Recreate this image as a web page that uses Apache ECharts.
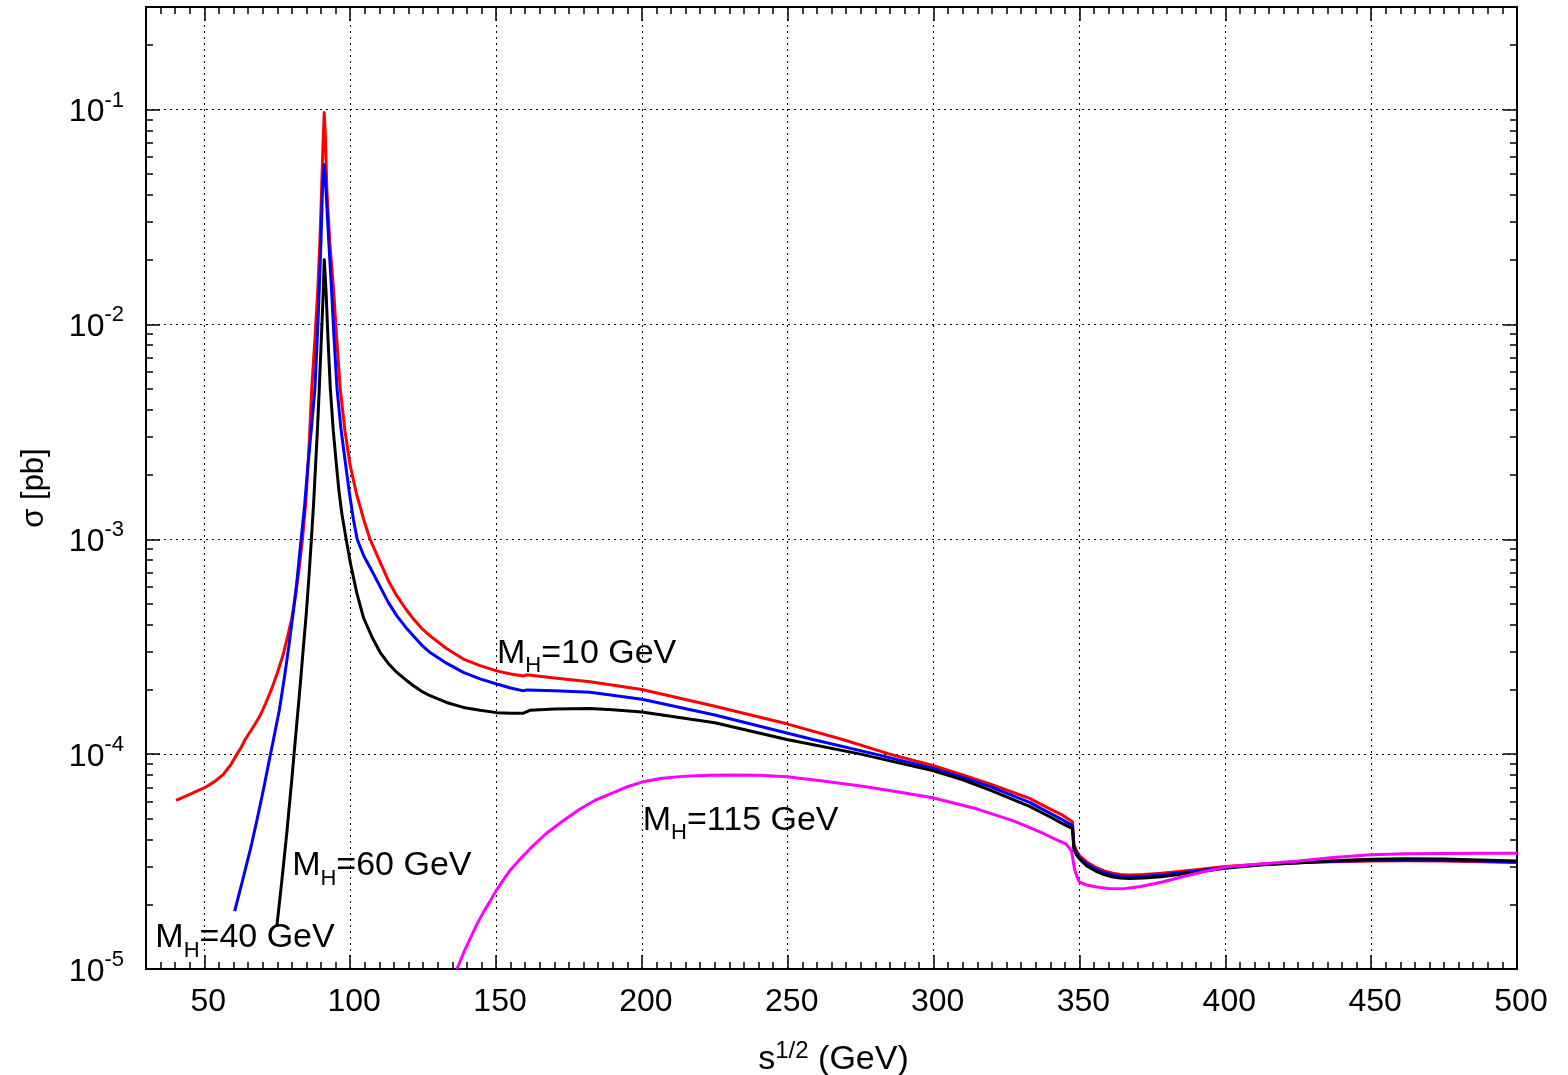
<!DOCTYPE html>
<html>
<head>
<meta charset="utf-8">
<title>sigma vs sqrt(s)</title>
<script src="https://cdn.jsdelivr.net/npm/echarts@6/dist/echarts.min.js"></script>
<style>
    html, body { margin: 0; padding: 0; background: #fff; }
    #main { width: 1568px; height: 1075px; }
</style>
</head>
<body>
<div id="main"></div>
<script type="text/javascript">
    // values: [sqrt(s) GeV, sigma pb]
    var mh10 = [[40.3,6.1e-5],[45,6.5e-5],[50.1,6.98e-5],[53.5,7.45e-5],[56.6,8.07e-5],[59,8.9e-5],[61.2,1.0e-4],[62.7,1.08e-4],[64.0,1.17e-4],[66.5,1.32e-4],[69,1.5e-4],[71,1.72e-4],[73,2.0e-4],[75,2.38e-4],[77,2.9e-4],[78.5,3.5e-4],[80,4.3e-4],[81.3,5.5e-4],[82.5,7.3e-4],[83.7,1.02e-3],[84.8,1.5e-3],[85.9,2.7e-3],[86.8,5.0e-3],[87.9,8.5e-3],[88.9,1.455e-2],[89.6,2.4e-2],[90.2,4.25e-2],[90.7,7.0e-2],[91.1,0.0968],[91.5,7.5e-2],[92.0,4.25e-2],[93.0,2.4e-2],[94.3,1.455e-2],[95.4,8.5e-3],[96.6,5.0e-3],[98.2,3.2e-3],[100.0,2.2e-3],[102.2,1.62e-3],[104.6,1.24e-3],[106.8,1.0e-3],[110.3,7.8e-4],[113,6.45e-4],[116,5.45e-4],[119,4.75e-4],[121.7,4.25e-4],[124.5,3.85e-4],[127.4,3.55e-4],[133,3.1e-4],[138.8,2.77e-4],[144.5,2.58e-4],[150.2,2.44e-4],[155,2.36e-4],[159.4,2.31e-4],[160.5,2.34e-4],[170,2.26e-4],[182.2,2.17e-4],[200,2.0e-4],[225,1.67e-4],[250,1.38e-4],[268.8,1.17e-4],[285,1.0e-4],[300,8.83e-5],[310,8.0e-5],[320,7.2e-5],[332.9,6.22e-5],[340,5.55e-5],[344.2,5.2e-5],[347.6,4.85e-5],[348.1,3.8e-5],[349,3.55e-5],[350,3.37e-5],[352.5,3.15e-5],[355.7,2.97e-5],[358.5,2.86e-5],[361.4,2.79e-5],[364,2.75e-5],[367,2.74e-5],[372,2.75e-5],[378,2.79e-5],[390,2.9e-5],[400,3.0e-5],[412,3.07e-5],[425,3.12e-5],[437,3.16e-5],[450,3.18e-5],[462,3.19e-5],[475,3.18e-5],[487,3.16e-5],[500,3.13e-5]];
    var mh40 = [[60.4,1.86e-5],[63,2.55e-5],[65.8,3.61e-5],[68,4.9e-5],[70.3,6.88e-5],[72,9.0e-5],[73.7,1.17e-4],[75.7,1.6e-4],[77.5,2.3e-4],[79,3.2e-4],[80.5,4.6e-4],[81.8,6.5e-4],[83,9.5e-4],[84.3,1.4e-3],[85.5,2.2e-3],[86.8,3.4e-3],[87.9,5.0e-3],[88.7,8.5e-3],[89.4,1.455e-2],[90,2.5e-2],[90.5,4.25e-2],[91.1,0.0555],[91.7,4.25e-2],[92.6,2.5e-2],[93.6,1.455e-2],[94.5,8.5e-3],[95.5,5.0e-3],[96.8,3.3e-3],[98.3,2.3e-3],[99.7,1.65e-3],[101.1,1.24e-3],[102.4,1.0e-3],[104.6,8.4e-4],[107.5,7.1e-4],[110.3,6.0e-4],[113,5.1e-4],[116,4.4e-4],[119,3.9e-4],[121.7,3.55e-4],[124.5,3.22e-4],[127.4,2.97e-4],[133,2.65e-4],[138.8,2.4e-4],[144.5,2.24e-4],[150.2,2.12e-4],[155,2.03e-4],[159.4,1.97e-4],[160.6,1.99e-4],[170,1.97e-4],[182.2,1.94e-4],[200,1.8e-4],[225,1.52e-4],[258.6,1.17e-4],[280,1.0e-4],[300,8.58e-5],[310,7.8e-5],[320,7.0e-5],[332.9,5.96e-5],[340,5.3e-5],[344.2,4.95e-5],[347.6,4.65e-5],[348.1,3.7e-5],[349,3.47e-5],[350,3.3e-5],[352.5,3.08e-5],[355.7,2.92e-5],[358.5,2.81e-5],[361.4,2.74e-5],[364,2.7e-5],[367,2.69e-5],[372,2.7e-5],[378,2.74e-5],[390,2.86e-5],[400,2.97e-5],[412,3.06e-5],[425,3.12e-5],[437,3.17e-5],[450,3.2e-5],[462,3.21e-5],[475,3.2e-5],[487,3.18e-5],[500,3.14e-5]];
    var mh60 = [[74.9,1.6e-5],[76.6,2.6e-5],[78.3,4.34e-5],[80.0,7.65e-5],[81.2,1.17e-4],[82.1,1.6e-4],[83,2.2e-4],[84,3.2e-4],[85,4.6e-4],[85.9,6.8e-4],[86.7,1.0e-3],[87.5,1.5e-3],[88.2,2.3e-3],[88.8,3.3e-3],[89.4,5.0e-3],[90.1,8.5e-3],[90.8,1.455e-2],[91.1,0.02],[91.7,1.455e-2],[92.4,8.5e-3],[93.2,5.0e-3],[94.2,3.2e-3],[95.3,2.2e-3],[96.2,1.65e-3],[97.2,1.3e-3],[98.9,9.5e-4],[100.2,7.6e-4],[102.3,5.6e-4],[104.6,4.3e-4],[107.5,3.5e-4],[110.3,2.97e-4],[113,2.65e-4],[116,2.4e-4],[119,2.22e-4],[121.7,2.08e-4],[124.5,1.96e-4],[127.4,1.87e-4],[133,1.74e-4],[138.8,1.65e-4],[144.5,1.6e-4],[150.2,1.56e-4],[155,1.55e-4],[159.4,1.55e-4],[161.6,1.6e-4],[170,1.62e-4],[182.2,1.63e-4],[190,1.61e-4],[200,1.57e-4],[225,1.4e-4],[249.7,1.17e-4],[275,1.0e-4],[300,8.36e-5],[310,7.6e-5],[320,6.75e-5],[332.9,5.71e-5],[340,5.1e-5],[344.2,4.75e-5],[347.6,4.5e-5],[348.1,3.6e-5],[349,3.4e-5],[350,3.25e-5],[352.5,3.02e-5],[355.7,2.85e-5],[358.5,2.75e-5],[361.4,2.68e-5],[364,2.65e-5],[367,2.64e-5],[372,2.65e-5],[378,2.69e-5],[390,2.82e-5],[400,2.94e-5],[412,3.05e-5],[425,3.12e-5],[437,3.19e-5],[450,3.24e-5],[462,3.26e-5],[475,3.25e-5],[487,3.22e-5],[500,3.18e-5]];
    var mh115 = [[136.6,1.0e-5],[139,1.2e-5],[141.1,1.38e-5],[143.3,1.6e-5],[145.7,1.84e-5],[148,2.07e-5],[150,2.31e-5],[152.5,2.6e-5],[155,2.9e-5],[158,3.22e-5],[161.6,3.62e-5],[167,4.25e-5],[173,4.9e-5],[178.8,5.55e-5],[184,6.1e-5],[190,6.6e-5],[195,7.05e-5],[200.3,7.43e-5],[207,7.72e-5],[215,7.9e-5],[223,7.98e-5],[231.2,8.0e-5],[240,7.97e-5],[249.7,7.85e-5],[262,7.5e-5],[275,7.1e-5],[287,6.7e-5],[299.7,6.27e-5],[315,5.55e-5],[327.1,4.9e-5],[333,4.55e-5],[338,4.25e-5],[342,4.0e-5],[345.4,3.82e-5],[347.3,3.54e-5],[348.3,2.92e-5],[349.2,2.68e-5],[350,2.54e-5],[352.5,2.46e-5],[355.8,2.41e-5],[360,2.37e-5],[364.7,2.36e-5],[371,2.42e-5],[378.4,2.54e-5],[385,2.68e-5],[392,2.83e-5],[400,2.98e-5],[412,3.08e-5],[425,3.18e-5],[437,3.3e-5],[450,3.4e-5],[462,3.44e-5],[475,3.45e-5],[487,3.46e-5],[500,3.46e-5]];

    var xMajor = [50, 100, 150, 200, 250, 300, 350, 400, 450, 500];

    // curve labels (M_H value) and where they sit, in data units
    var labelText = ['10', '115', '60', '40'];
    var labelAnchor = [[150.3, 2.95e-4], [200.3, 4.93e-5], [80.1, 3.02e-5], [33.2, 1.40e-5]];

    // minor tick positions
    var xMinor = [];
    for (var t = 30; t <= 500; t += 5) {
        if (t % 50 !== 0) xMinor.push(t);
    }
    var yMinor = [];
    for (var d = -5; d <= -1; d++) {
        for (var k = 2; k <= 9; k++) {
            var v = k * Math.pow(10, d);
            if (v <= 0.3) yMinor.push(+v.toPrecision(3));
        }
    }

    var fam = '"Liberation Sans", Arial, Helvetica, sans-serif';
    var lineBlack = { color: '#000', width: 2 };
    var tickStyle = { color: '#000', width: 1.5 };
    var gridLine = { color: '#000', width: 1, type: [2, 4] };

    function xAxisDef(pos, ticks, len, main) {
        return {
            type: 'value', position: pos, min: 30, max: 500,
            axisLine: { show: main, onZero: false, lineStyle: lineBlack },
            axisTick: { show: true, inside: true, length: len, lineStyle: tickStyle, customValues: ticks },
            axisLabel: { show: main && pos === 'bottom', customValues: ticks, color: '#000', fontSize: 32, fontFamily: fam, margin: 17, padding: [0, 0, 0, 8] },
            splitLine: { show: main && pos === 'bottom', lineStyle: gridLine }
        };
    }
    function yAxisDef(pos, ticks, len, main) {
        var ax = {
            type: 'log', logBase: 10, position: pos, min: 1e-5, max: 0.3,
            axisLine: { show: main, onZero: false, lineStyle: lineBlack },
            axisTick: { show: true, inside: true, length: len, lineStyle: tickStyle },
            axisLabel: { show: false },
            splitLine: { show: false }
        };
        if (ticks) ax.axisTick.customValues = ticks;
        return ax;
    }

    var xAxes = [
        xAxisDef('bottom', xMajor, 14, true),
        xAxisDef('bottom', xMinor, 7, false),
        xAxisDef('top', xMajor, 14, true),
        xAxisDef('top', xMinor, 7, false)
    ];
    xAxes[0].name = '{b|s}{s|1/2}{b| (GeV)}';
    xAxes[0].nameLocation = 'middle';
    xAxes[0].nameGap = 70;
    xAxes[0].nameTextStyle = {
        padding: [0, 0, 0, 4],
        rich: {
            b: { fontSize: 34, fontFamily: fam, color: '#000' },
            s: { fontSize: 24, fontFamily: fam, color: '#000', padding: [0, 0, 18, 0] }
        }
    };

    var yAxes = [
        yAxisDef('left', null, 14, true),
        yAxisDef('left', yMinor, 7, false),
        yAxisDef('right', null, 14, true),
        yAxisDef('right', yMinor, 7, false)
    ];
    yAxes[0].axisLabel = {
        show: true, margin: 22, showMaxLabel: false,
        formatter: function (val) {
            var e = Math.log10(val);
            if (Math.abs(e - Math.round(e)) > 1e-6) return '';
            return '{b|10}{s|' + Math.round(e) + '}';
        },
        rich: {
            b: { fontSize: 32, fontFamily: fam, color: '#000', padding: [6, 0, 0, 0] },
            s: { fontSize: 22, fontFamily: fam, color: '#000', padding: [0, 0, 18, 0] }
        }
    };
    yAxes[0].splitLine = { show: true, lineStyle: gridLine };
    yAxes[0].name = 'σ [pb]';
    yAxes[0].nameLocation = 'middle';
    yAxes[0].nameRotate = 90;
    yAxes[0].nameGap = 96;
    yAxes[0].nameTextStyle = { fontSize: 31, fontFamily: fam, color: '#000' };

    function curve(data, color) {
        return {
            type: 'line', data: data, showSymbol: false, symbol: 'none',
            smooth: false, lineStyle: { color: color, width: 3, join: 'round' }, z: 3
        };
    }

    var labelData = labelText.map(function (s, i) {
        return { value: labelAnchor[i], name: s };
    });

    var myChart = echarts.init(document.getElementById('main'));
    var option = {
        animation: false,
        backgroundColor: '#fff',
        grid: { left: 146, right: 51, top: 7, bottom: 106, containLabel: false, outerBoundsMode: 'none' },
        xAxis: xAxes,
        yAxis: yAxes,
        series: [
            curve(mh10, '#ff0000'),
            curve(mh40, '#0000ff'),
            curve(mh60, '#000000'),
            curve(mh115, '#ff00ff'),
            {
                type: 'scatter', data: labelData, symbolSize: 0, silent: true, z: 5,
                itemStyle: { opacity: 1 },
                label: {
                    show: true, position: 'right', distance: 0, color: '#000', opacity: 1,
                    formatter: function (p) { return '{m|M}{h|H}{m|=' + p.name + ' GeV}'; },
                    rich: {
                        m: { fontSize: 34, fontFamily: fam, color: '#000' },
                        h: { fontSize: 22, fontFamily: fam, color: '#000', padding: [26, 0, 0, 0] }
                    }
                }
            }
        ]
    };
    myChart.setOption(option);
</script>
</body>
</html>
